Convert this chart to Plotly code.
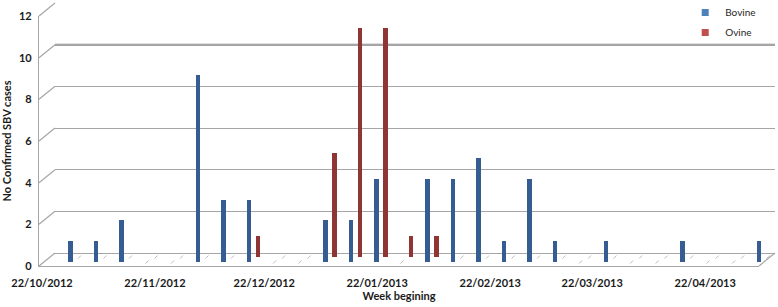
import plotly.graph_objects as go

# ---- data ----
weeks = ["2012-10-29", "2012-11-05", "2012-11-12", "2012-11-19", "2012-11-26",
         "2012-12-03", "2012-12-10", "2012-12-17", "2012-12-24", "2012-12-31",
         "2013-01-07", "2013-01-14", "2013-01-21", "2013-01-28", "2013-02-04",
         "2013-02-11", "2013-02-18", "2013-02-25", "2013-03-04", "2013-03-11",
         "2013-03-18", "2013-03-25", "2013-04-01", "2013-04-08", "2013-04-15",
         "2013-04-22", "2013-04-29", "2013-05-06"]
bovine = [1, 1, 2, 0, 0, 9, 3, 3, 0, 0, 2, 2, 4, 0, 4, 4, 5, 1, 4, 1, 0, 1, 0, 0, 1, 0, 0, 1]
ovine = [0, 0, 0, 0, 0, 0, 0, 1, 0, 0, 5, 11, 11, 1, 1, 0, 0, 0, 0, 0, 0, 0, 0, 0, 0, 0, 0, 0]
tick_dates = ["2012-10-22", "2012-11-22", "2012-12-22", "2013-01-22",
              "2013-02-22", "2013-03-22", "2013-04-22"]
tick_labels = ["22/10/2012", "22/11/2012", "22/12/2012", "22/01/2013",
               "22/02/2013", "22/03/2013", "22/04/2013"]
y_ticks = [0, 2, 4, 6, 8, 10, 12]

# ---- geometry (pseudo-3D layers) ----
W, H = 736, 263          # plot area in px
FW, FH = 720, 250        # front face size in px
x_range = ["2012-10-21 04:15", "2013-05-06 18:40"]
y_range = [0, 12]
BAR_W = 1.25 * 24 * 3600 * 1000

def dom(dx, dy):
    return [dx / W, (dx + FW) / W], [dy / H, (dy + FH) / H]

GRID = "#a6a6a6"
FONT = "Lato"
TXT = "#1a1a1a"
ZERO = "#bcbcbc"

fig = go.Figure()

# legend entries first (Bovine, Ovine)
fig.add_trace(go.Scatter(x=[None], y=[None], mode="markers", name="Bovine",
                         marker=dict(symbol="square", size=7, color="#4f81bd"),
                         xaxis="x4", yaxis="y4", legendgroup="a"))
fig.add_trace(go.Scatter(x=[None], y=[None], mode="markers", name="Ovine",
                         marker=dict(symbol="square", size=7, color="#c0504d"),
                         xaxis="x4", yaxis="y4", legendgroup="b"))

# back wall subplot (grid only)
fig.add_trace(go.Scatter(x=[None], y=[None], mode="markers", showlegend=False,
                         hoverinfo="skip", xaxis="x", yaxis="y"))

# ovine bars (back row)
fig.add_trace(go.Bar(x=weeks, y=ovine, width=BAR_W, name="Ovine", showlegend=False,
                     marker=dict(color="#8f3533", line=dict(width=0)),
                     xaxis="x2", yaxis="y2"))
ov_zero = [w for w, v in zip(weeks, ovine) if v == 0]
fig.add_trace(go.Scatter(x=ov_zero, y=[0] * len(ov_zero), mode="markers", showlegend=False,
                         hoverinfo="skip", cliponaxis=False,
                         marker=dict(symbol="line-ne", size=3, color=ZERO,
                                     line=dict(color=ZERO, width=1)),
                         xaxis="x2", yaxis="y2"))

# bovine bars (front row)
fig.add_trace(go.Bar(x=weeks, y=bovine, width=BAR_W, name="Bovine", showlegend=False,
                     marker=dict(color="#355d93", line=dict(width=0)),
                     xaxis="x3", yaxis="y3"))
bv_zero = [w for w, v in zip(weeks, bovine) if v == 0]
fig.add_trace(go.Scatter(x=bv_zero, y=[0] * len(bv_zero), mode="markers", showlegend=False,
                         hoverinfo="skip", cliponaxis=False,
                         marker=dict(symbol="line-ne", size=3, color=ZERO,
                                     line=dict(color=ZERO, width=1)),
                         xaxis="x3", yaxis="y3"))

# front axes subplot
fig.add_trace(go.Scatter(x=[None], y=[None], mode="markers", showlegend=False,
                         hoverinfo="skip", xaxis="x4", yaxis="y4"))

bx, by = dom(16, 13)
rx, ry = dom(12, 9)
blx, bly = dom(3, 4)
fx, fy = dom(0, 0)

hidden_x = dict(type="date", range=x_range, showgrid=False, showticklabels=False,
                zeroline=False, showline=False, ticks="", automargin=False)
hidden_y = dict(range=y_range, showgrid=False, showticklabels=False,
                zeroline=False, showline=False, ticks="", automargin=False)

fig.update_layout(
    width=778, height=307,
    margin=dict(l=39, r=3, t=3, b=41, autoexpand=False),
    paper_bgcolor="white", plot_bgcolor="rgba(0,0,0,0)",
    font=dict(family=FONT, color=TXT),
    bargap=0,
    showlegend=True,
    legend=dict(x=0.878, y=1.019, xanchor="left", yanchor="top",
                bgcolor="rgba(255,255,255,0)", traceorder="grouped",
                tracegroupgap=1, font=dict(size=10, family=FONT, color="#262626")),
    xaxis=dict(hidden_x, domain=bx, anchor="y"),
    yaxis=dict(range=y_range, domain=by, anchor="x", tickvals=y_ticks,
               showgrid=True, gridcolor=GRID, gridwidth=1.2,
               zeroline=True, zerolinecolor=GRID, zerolinewidth=1.2,
               showticklabels=False, showline=False, ticks="", automargin=False),
    xaxis2=dict(hidden_x, domain=rx, anchor="y2"),
    yaxis2=dict(hidden_y, domain=ry, anchor="x2"),
    xaxis3=dict(hidden_x, domain=blx, anchor="y3"),
    yaxis3=dict(hidden_y, domain=bly, anchor="x3"),
    xaxis4=dict(type="date", range=x_range, domain=fx, anchor="y4", automargin=False,
                tickvals=tick_dates, ticktext=tick_labels,
                showgrid=False, zeroline=False, showline=True, linecolor=GRID, linewidth=1.2,
                ticks="", ticklabelstandoff=7,
                tickfont=dict(size=11, family=FONT, color=TXT, weight="bold"),
                title=dict(text="Week begining", standoff=4,
                           font=dict(size=11, family=FONT, color=TXT, weight="bold"))),
    yaxis4=dict(range=y_range, domain=fy, anchor="x4", tickvals=y_ticks, automargin=False,
                showgrid=False, zeroline=False, showline=True, linecolor=GRID, linewidth=1.2,
                ticks="", ticklabelstandoff=4,
                tickfont=dict(size=11, family=FONT, color=TXT, weight="bold"),
                title=dict(text="No Confirmed SBV cases", standoff=6,
                           font=dict(size=11, family=FONT, color=TXT, weight="bold"))),
)

shapes = []
for v in y_ticks:
    shapes.append(dict(type="line", xref="paper", yref="paper",
                       x0=0, y0=v / 12 * FH / H, x1=16 / W, y1=(13 + v / 12 * FH) / H,
                       line=dict(color=GRID, width=1.2)))
# right floor edge
shapes.append(dict(type="line", xref="paper", yref="paper",
                   x0=FW / W, y0=0, x1=1, y1=13 / H, line=dict(color=GRID, width=1.2)))
# darker gridline at 10 on back wall
shapes.append(dict(type="line", xref="x domain", yref="y", x0=0, x1=1, y0=10, y1=10,
                   line=dict(color="#858585", width=2), layer="below"))
fig.update_layout(shapes=shapes)

fig.write_html("out.html", config={"displayModeBar": False},
               post_script="document.body.style.margin='0';document.body.style.overflow='hidden';")
